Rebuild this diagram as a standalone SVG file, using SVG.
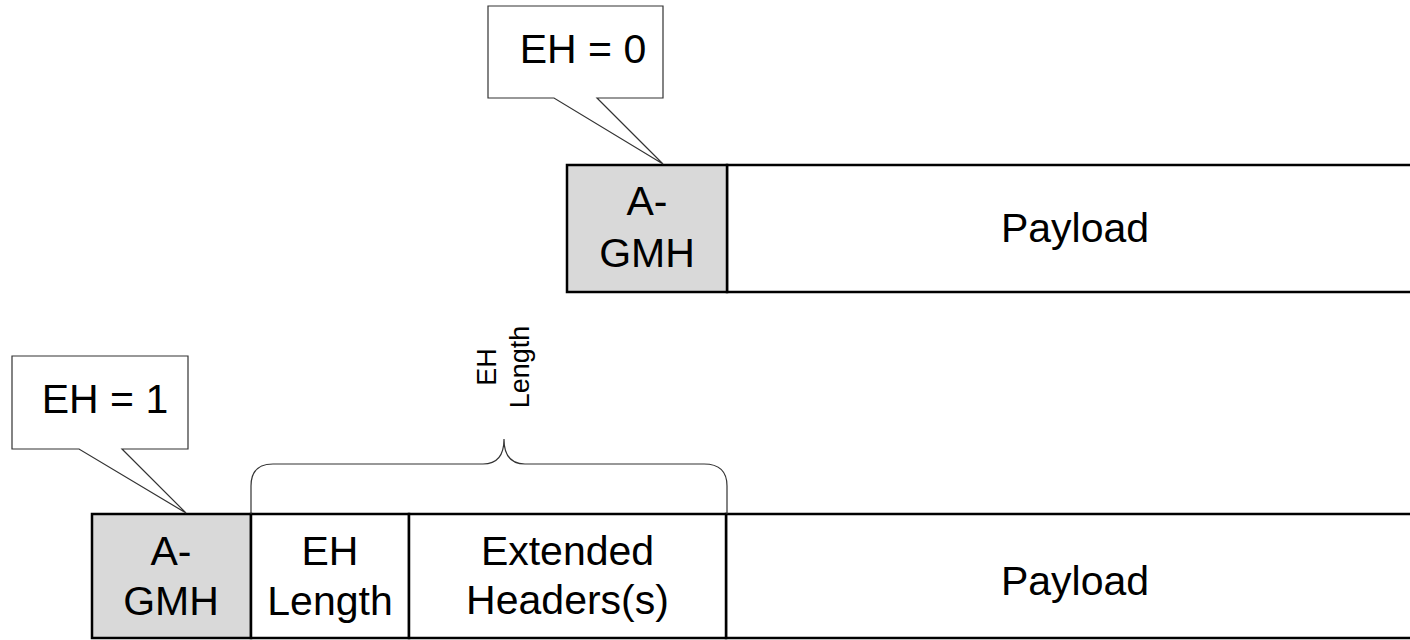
<svg xmlns="http://www.w3.org/2000/svg" width="1410" height="640" viewBox="0 0 1410 640">
<style>
.t{font-family:"Liberation Sans",Arial,sans-serif;font-size:41px;fill:#000;text-anchor:middle}
.s{font-family:"Liberation Sans",Arial,sans-serif;font-size:27px;fill:#000;text-anchor:middle}
.cell{stroke:#000;stroke-width:2.5;fill:#fff}
.hdr{stroke:#000;stroke-width:2.5;fill:#d9d9d9}
.call{stroke:#333;stroke-width:1.2;fill:#fff}
.brace{stroke:#333;stroke-width:1.2;fill:none}
</style>
<rect width="1410" height="640" fill="#fff"/>
<g id="top-payload"><rect class="cell" x="727" y="165" width="700" height="127"/><text class="t" x="1075" y="242">Payload</text></g>
<g id="top-agmh"><rect class="hdr" x="567" y="165" width="160" height="127"/><text class="t" x="647" y="215">A-</text><text class="t" x="647" y="267">GMH</text></g>
<g id="callout-eh0"><path class="call" d="M488,6 H663 V98 H597 L663,164 L554,98 H488 Z"/><text class="t" x="583" y="63">EH = 0</text></g>
<g id="bottom-payload"><rect class="cell" x="726" y="514" width="700" height="124"/><text class="t" x="1075" y="595">Payload</text></g>
<g id="bottom-agmh"><rect class="hdr" x="92" y="514" width="159" height="124"/><text class="t" x="171" y="565">A-</text><text class="t" x="171" y="615">GMH</text></g>
<g id="bottom-ehlen"><rect class="cell" x="251" y="514" width="158" height="124"/><text class="t" x="330" y="565">EH</text><text class="t" x="330" y="615">Length</text></g>
<g id="bottom-ext"><rect class="cell" x="409" y="514" width="317" height="124"/><text class="t" x="567.5" y="565">Extended</text><text class="t" x="567.5" y="614">Headers(s)</text></g>
<g id="callout-eh1"><path class="call" d="M12,356 H188 V449 H122 L186,513 L79,449 H12 Z"/><text class="t" x="105" y="413">EH = 1</text></g>
<g id="connectors"><path class="brace" d="M251,514 V486 Q251,464 273,464 H483 Q504,464 504,439 Q504,464 525,464 H704 Q727,464 727,486 V514"/></g>
<g id="brace-label"><text class="s" transform="translate(504,367) rotate(-90)"><tspan x="0" y="-8">EH</tspan><tspan x="0" y="25">Length</tspan></text></g>
</svg>
